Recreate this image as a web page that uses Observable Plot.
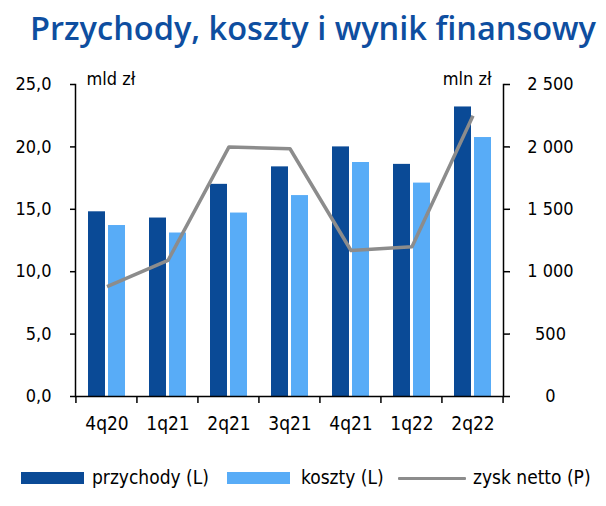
<!DOCTYPE html>
<html><head><meta charset="utf-8">
<script src="https://cdn.jsdelivr.net/npm/d3@7"></script>
<script src="https://cdn.jsdelivr.net/npm/@observablehq/plot@0.6"></script>
<style>
body{margin:0;background:#fff;}
#wrap{position:relative;width:606px;height:506px;overflow:hidden;font-family:"DejaVu Sans Condensed","DejaVu Sans",sans-serif;font-stretch:condensed;color:#000;}
#title{position:absolute;left:0;top:0;}
#chart{position:absolute;left:0;top:60px;}
.lg{position:absolute;}
.lt{position:absolute;top:466px;font-size:19px;line-height:23px;white-space:nowrap;}
svg text{font-stretch:condensed;}
</style></head><body>
<div id="wrap">
<svg id="title" width="606" height="60"><text x="30" y="40" textLength="566" lengthAdjust="spacingAndGlyphs" font-family="Open Sans" font-size="32" fill="#0E4EA0" font-weight="600" style="font-stretch:normal">Przychody, koszty i wynik finansowy</text></svg>
<div id="chart"></div>
<div class="lg" style="left:21px;top:472px;width:63px;height:12px;background:#0A4A96"></div>
<div class="lt" style="left:92px">przychody (L)</div>
<div class="lg" style="left:227px;top:472px;width:63px;height:12px;background:#58ACF7"></div>
<div class="lt" style="left:301px">koszty (L)</div>
<div class="lg" style="left:398px;top:477px;width:68px;height:3px;background:#8C8C8C;border-radius:1px"></div>
<div class="lt" style="left:473px">zysk netto (P)</div>
</div>
<script>
const quarters = ["4q20","1q21","2q21","3q21","4q21","1q22","2q22"];
const przychody = [14.8, 14.3, 17.0, 18.4, 20.0, 18.6, 23.2];   // mld zł
const koszty    = [13.7, 13.1, 14.7, 16.1, 18.75, 17.1, 20.75]; // mld zł
const zysk      = [880, 1090, 2000, 1985, 1170, 1200, 2250];     // mln zł
const leftTicks  = [0, 5, 10, 15, 20, 25];
const rightTicks = [0, 500, 1000, 1500, 2000, 2500];
const ratio = 100; // right axis units per left axis unit

const DARK = "#0A4A96", LIGHT = "#58ACF7", GRAY = "#8C8C8C";
const rows = quarters.map((q, i) => ({q, p: przychody[i], k: koszty[i], z: zysk[i]}));
const fmtLeft = d => d.toFixed(1).replace(".", ",");
const fmtRight = d => { const v = Math.round(d * ratio); return v >= 1000 ? Math.floor(v/1000) + "\u00a0" + String(v % 1000).padStart(3, "0") : String(v); };

function boundaryTicks(index, scales, values, dims) {
  const x = scales.x;
  const step = (dims.width - dims.marginLeft - dims.marginRight) / quarters.length;
  const y0 = dims.height - dims.marginBottom;
  const g = d3.create("svg:g").attr("stroke", "#000").attr("stroke-width", 1.5);
  const xs = quarters.map(q => x(q));
  const bw = typeof x.bandwidth === "function" ? x.bandwidth() : (x.bandwidth || 0);
  const edges = xs.map(v => v + bw/2 - step/2);
  edges.push(xs[xs.length-1] + bw/2 + step/2);
  for (const e of edges) g.append("line").attr("x1", e).attr("x2", e).attr("y1", y0).attr("y2", y0 + 7);
  return g.node();
}

const chart = Plot.plot({
  width: 606, height: 376,
  marginTop: 24, marginBottom: 40, marginLeft: 75, marginRight: 103,
  style: {fontFamily: '"DejaVu Sans Condensed", "DejaVu Sans", sans-serif', fontSize: "18px", color: "#000", background: "#fff", overflow: "visible"},
  x: {domain: quarters, padding: 0, label: null},
  y: {domain: [0, 25], label: null},
  marks: [
    Plot.barY(rows, {x: "q", y: "p", fill: DARK, insetLeft: 12, insetRight: 32}),
    Plot.barY(rows, {x: "q", y: "k", fill: LIGHT, insetLeft: 32, insetRight: 12}),
    Plot.lineY(rows, {x: "q", y: d => d.z / ratio, stroke: GRAY, strokeWidth: 3.5, strokeLinejoin: "round", strokeLinecap: "butt"}),
    Plot.frame({anchor: "left", stroke: "#000", strokeWidth: 1.5}),
    Plot.frame({anchor: "right", stroke: "#000", strokeWidth: 1.5}),
    Plot.ruleY([0], {stroke: "#000", strokeWidth: 1.5}),
    Plot.axisY({ticks: leftTicks, tickFormat: fmtLeft, tickSize: 5, tickPadding: 19, strokeWidth: 1.5, label: null, fontSize: 18}),
    Plot.axisY({anchor: "right", ticks: rightTicks.map(v => v / ratio), tickFormat: fmtRight, tickSize: 6, tickPadding: 41, textAnchor: "middle", strokeWidth: 1.5, label: null, fontSize: 18}),
    Plot.axisX({tickSize: 0, tickPadding: 20, label: null, fontSize: 19}),
    Plot.ruleX([quarters[0]], {render: boundaryTicks}),
    Plot.text(["mld zł"], {frameAnchor: "top-left", dx: 11, dy: -12, text: d => d, fontSize: 18, textAnchor: "start"}),
    Plot.text(["mln zł"], {frameAnchor: "top-right", dx: -12, dy: -12, text: d => d, fontSize: 18, textAnchor: "end"})
  ]
});
document.getElementById("chart").appendChild(chart);
</script>
</body></html>
